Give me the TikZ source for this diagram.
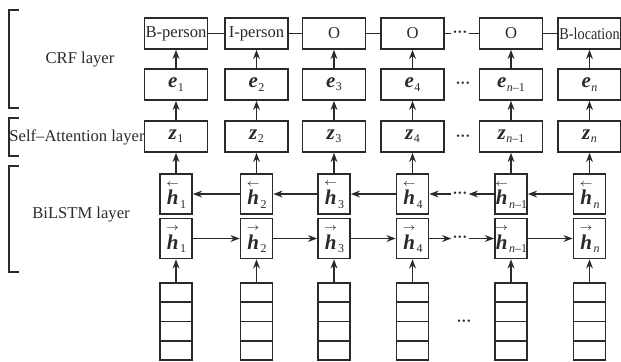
\documentclass[tikz,border=0pt]{standalone}
\usepackage{amsmath}
\usepackage{fontspec}
\setmainfont{Liberation Serif}
\usetikzlibrary{arrows.meta}
\newcommand\subtxt[1]{\raisebox{-1.6pt}{\fontsize{6}{6}\selectfont #1}}
\newcommand\bvec[2]{{\fontsize{10.5}{11}\selectfont\bfseries\itshape #1}\kern0.3pt\subtxt{#2}}
\newcommand\hvec[2]{{\fontsize{10.5}{11}\selectfont$\overset{\scriptscriptstyle #1}{\text{\bfseries\itshape h}}$}\kern0.3pt\subtxt{#2}}
\newcommand\tdots{{\fontsize{5}{5}\selectfont\textbullet\kern0.7pt\textbullet\kern0.7pt\textbullet}}
\definecolor{ink}{HTML}{2A2A2A}
\begin{document}
\begin{tikzpicture}[x=0.5pt,y=-0.5pt,
  font=\fontsize{8.3}{9}\selectfont, color=ink,
  wbox/.style={draw, line width=0.8pt, minimum width=31.5pt, minimum height=15.5pt, inner sep=0pt},
  hbox/.style={draw, line width=0.8pt, minimum width=16pt, minimum height=20pt, inner sep=0pt},
  cell/.style={draw, line width=0.8pt, minimum width=16pt, minimum height=9.6pt, inner sep=0pt},
  dots/.style={inner sep=0.8pt},
  arr/.style={line width=0.8pt, -{Stealth[length=4.6pt,width=3.4pt,inset=1.5pt]}},
  conn/.style={line width=0.8pt},
  brk/.style={line width=0.8pt}]
\useasboundingbox (0,0) rectangle (621,361);
% columns
\foreach \i/\x/\t/\s in {1/176/B-person/1, 2/256.5/I-person/2, 3/334/O/3, 4/412.5/O/4, 5/511/O/{\textit{n}–1}, 6/589.5/{\scalebox{0.86}[1]{B-location}}/{\textit{n}}}{
  \node[wbox] (l\i) at (\x,33.5) {\t};
  \node[wbox] (e\i) at (\x,84.5) {\bvec{e}{\s}};
  \node[wbox] (z\i) at (\x,136.5) {\bvec{z}{\s}};
  \node[hbox] (hb\i) at (\x,194) {\hvec{\leftarrow}{\s}};
  \node[hbox] (hf\i) at (\x,238.5) {\hvec{\rightarrow}{\s}};
  \node[cell] (s\i a) at (\x,292.6) {};
  \node[cell] (s\i b) at (\x,311.9) {};
  \node[cell] (s\i c) at (\x,331.1) {};
  \node[cell] (s\i d) at (\x,350.4) {};
  \draw[arr] (s\i a) -- (hf\i);
  \draw[arr] (hb\i) -- (z\i);
  \draw[arr] (z\i) -- (e\i);
  \draw[arr] (e\i) -- (l\i);
}
% ellipsis nodes
\node[dots] (dl) at (460,33.5) {\tdots};
\node[dots] (de) at (463,84.5) {\tdots};
\node[dots] (dz) at (463,137) {\tdots};
\node[dots] (dbw) at (460,194) {\tdots};
\node[dots] (dfw) at (460,238.5) {\tdots};
\node[dots] (ds) at (464,322) {\tdots};
% label row connections
\draw[conn] (l1) -- (l2);
\draw[conn] (l2) -- (l3);
\draw[conn] (l3) -- (l4);
\draw[conn] (l4) -- (dl);
\draw[conn] (dl) -- (l5);
\draw[conn] (l5) -- (l6);
% forward LSTM
\draw[arr] (hf1) -- (hf2);
\draw[arr] (hf2) -- (hf3);
\draw[arr] (hf3) -- (hf4);
\draw[arr] (hf4) -- (dfw);
\draw[arr] (dfw) -- (hf5);
\draw[arr] (hf5) -- (hf6);
% backward LSTM
\draw[arr] (hb2) -- (hb1);
\draw[arr] (hb3) -- (hb2);
\draw[arr] (hb4) -- (hb3);
\draw[arr] (dbw) -- (hb4);
\draw[arr] (hb5) -- (dbw);
\draw[arr] (hb6) -- (hb5);
% brackets and layer names
\draw[brk] (19,10) -- (9,10) -- (9,108) -- (19,108);
\draw[brk] (19,118) -- (9,118) -- (9,156) -- (19,156);
\draw[brk] (19,166) -- (9,166) -- (9,272) -- (19,272);
\node (tcrf) at (80,60) {CRF layer};
\node (tsa) at (77,137) {Self–Attention layer};
\node (tbl) at (81,215) {BiLSTM layer};
\end{tikzpicture}
\end{document}
